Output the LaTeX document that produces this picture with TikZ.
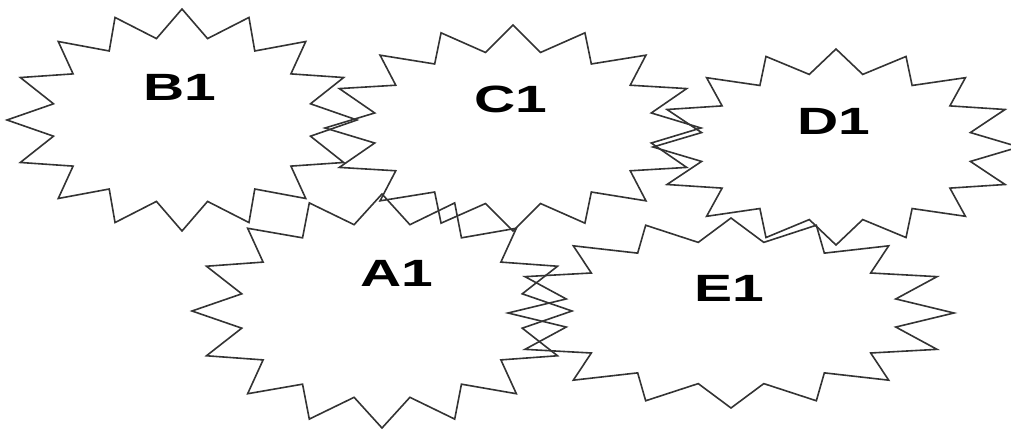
\documentclass[tikz,border=0pt]{standalone}
\usepackage{fontspec}
\setmainfont{Liberation Sans}
\begin{document}
\begin{tikzpicture}[x=1pt,y=-1pt,line width=1.6pt,
	lbl/.style={font=\bfseries\fontsize{38}{40}\selectfont,xscale=1.5,inner sep=0pt}]
	\useasboundingbox (0,0) rectangle (1011,430);
	\draw[black!80,shift={(182,120)}] (0:175 and 111) \foreach \k in {0,...,15} { -- (\k*22.5+11.25:131 and 83) -- (\k*22.5+22.5:175 and 111) } -- cycle;
	\draw (180,87) node[lbl] (b1) {B1};
	\draw[black!80,shift={(513,128)}] (0:188 and 103) \foreach \k in {0,...,15} { -- (\k*22.5+11.25:141 and 77) -- (\k*22.5+22.5:188 and 103) } -- cycle;
	\draw (511,99) node[lbl] (c1) {C1};
	\draw[black!80,shift={(836,147)}] (0:183 and 98) \foreach \k in {0,...,15} { -- (\k*22.5+11.25:137 and 74) -- (\k*22.5+22.5:183 and 98) } -- cycle;
	\draw (834,121) node[lbl] (d1) {D1};
	\draw[black!80,shift={(382,311)}] (0:190 and 117) \foreach \k in {0,...,15} { -- (\k*22.5+11.25:143 and 88) -- (\k*22.5+22.5:190 and 117) } -- cycle;
	\draw (397,273) node[lbl] (a1) {A1};
	\draw[black!80,shift={(731,313)}] (0:223 and 95) \foreach \k in {0,...,15} { -- (\k*22.5+11.25:168 and 72) -- (\k*22.5+22.5:223 and 95) } -- cycle;
	\draw (729,288) node[lbl] (e1) {E1};
\end{tikzpicture}
\end{document}
